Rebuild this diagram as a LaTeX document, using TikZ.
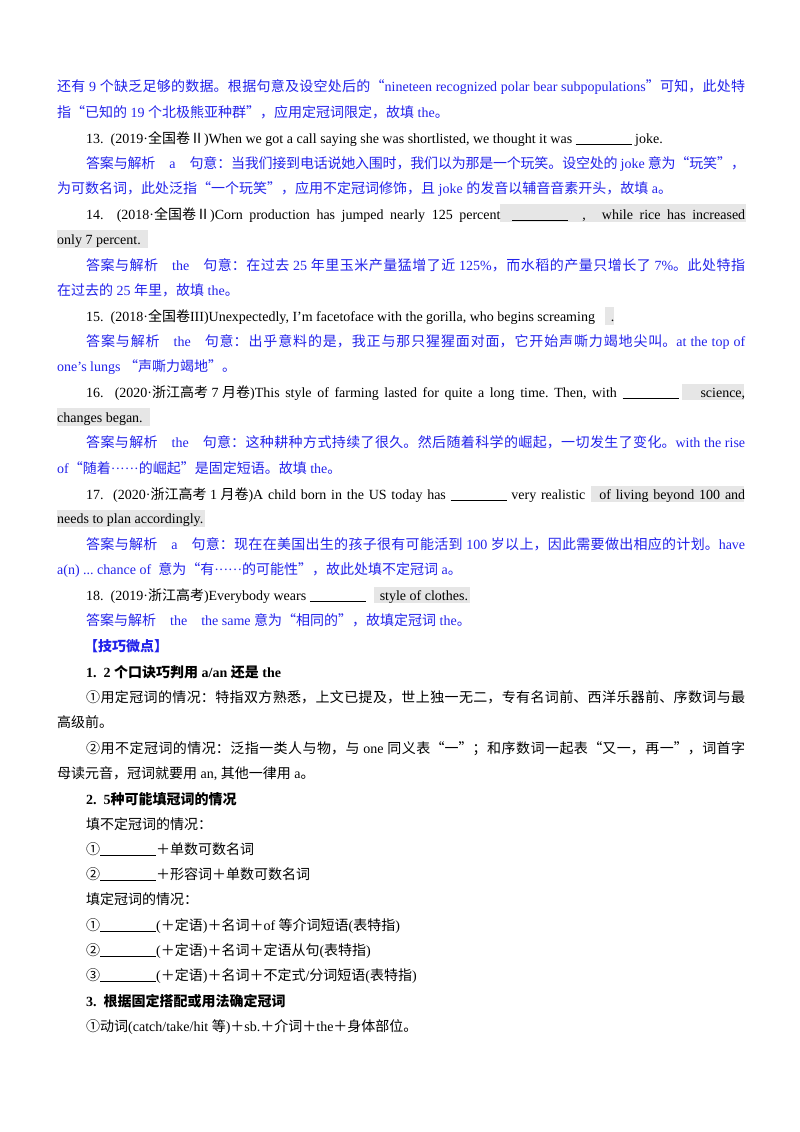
\documentclass[tikz,border=0pt]{standalone}
\usepackage{fontspec}
\setmainfont{Liberation Serif}
\newfontfamily\cjk{Noto Sans CJK SC}
\newcommand\zh[1]{{\cjk #1}}
\newcommand\jl[2]{\vbox{\hsize=#1pt\parindent=0pt\parfillskip=0pt\leftskip=0pt\rightskip=0pt\tolerance=10000\emergencystretch=0pt\noindent #2}}
\newcommand\blank{\rule[-2pt]{56pt}{0.6pt}}
\newcommand\mydots{······}
\XeTeXlinebreaklocale "zh"
\XeTeXlinebreakskip=0pt plus 3pt minus 0.6pt
\frenchspacing
\definecolor{ansblue}{RGB}{35,35,235}
\definecolor{hlgray}{RGB}{230,230,230}
\tikzset{
  txt/.style={anchor=base west, inner sep=0pt, font=\fontsize{14}{25}\selectfont},
  ans/.style={txt, text=ansblue},
  hl/.style={fill=hlgray}
}
\begin{document}
\begin{tikzpicture}[x=1pt,y=-1pt]
\useasboundingbox[fill=white] (0,0) rectangle (800,1132);
% highlights
\fill[hl] (500,204) rectangle (746,222);
\fill[hl] (57,230) rectangle (148,248);
\fill[hl] (605,307) rectangle (614,325);
\fill[hl] (682,384) rectangle (744,400);
\fill[hl] (57,408) rectangle (150,426);
\fill[hl] (591,486) rectangle (744,502);
\fill[hl] (57,510) rectangle (205,527);
\fill[hl] (374,587) rectangle (470,603);
% text lines
\node[ans] (l1) at (57,91) {\jl{688}{\zh{还有} 9 \zh{个缺乏足够的数据。根据句意及设空处后的“}nineteen recognized polar bear subpopulations\zh{”可知，此处特}}};
\node[ans] (l2) at (57,117) {\zh{指“已知的} 19 \zh{个北极熊亚种群”，应用定冠词限定，故填} the\zh{。}};
\node[txt] (l3) at (86,143) {13.\ \ (2019·\zh{全国卷Ⅱ})When we got a call saying she was shortlisted, we thought it was \blank\ joke.};
\node[ans] (l4) at (86,168) {\jl{659}{\zh{答案与解析}\quad a\quad\zh{句意：当我们接到电话说她入围时，我们以为那是一个玩笑。设空处的} joke \zh{意为“玩笑”，}}};
\node[ans] (l5) at (57,193) {\zh{为可数名词，此处泛指“一个玩笑”，应用不定冠词修饰，且} joke \zh{的发音以辅音音素开头，故填} a\zh{。}};
\node[txt] (l6) at (86,219) {\jl{659}{14.\ \ \mbox{(2018·\zh{全国卷Ⅱ})Corn} production has jumped nearly 125 percent\hspace{12pt}\blank\hspace{14pt},\hspace{16pt}while rice has increased}};
\node[txt] (l7) at (57,244) {only 7 percent.};
\node[ans] (l8) at (86,270) {\jl{659}{\zh{答案与解析}\quad the\quad\zh{句意：在过去} 25 \zh{年里玉米产量猛增了近} 125\%\zh{，而水稻的产量只增长了} 7\%\zh{。此处特指}}};
\node[ans] (l9) at (57,295) {\zh{在过去的} 25 \zh{年里，故填} the\zh{。}};
\node[txt] (l10) at (86,321) {15.\ \ (2018·\zh{全国卷}III)Unexpectedly, I'm facetoface with the gorilla, who begins screaming\hspace{16pt}.};
\node[ans] (l11) at (86,346) {\jl{659}{\zh{答案与解析}\quad the\quad\zh{句意：出乎意料的是，我正与那只猩猩面对面，它开始声嘶力竭地尖叫。}at the top of}};
\node[ans] (l12) at (57,371) {one's lungs \zh{“声嘶力竭地”。}};
\node[txt] (l13) at (86,397) {\jl{659}{16.\ \ \mbox{(2020·\zh{浙江高考} 7 \zh{月卷})This} style of farming lasted for quite a long time. Then, with \blank\hspace{22pt}science,}};
\node[txt] (l14) at (57,422) {changes began.};
\node[ans] (l15) at (86,447) {\jl{659}{\zh{答案与解析}\quad the\quad\zh{句意：这种耕种方式持续了很久。然后随着科学的崛起，一切发生了变化。}with the rise}};
\node[ans] (l16) at (57,473) {of\zh{“随着}\mydots\zh{的崛起”是固定短语。故填} the\zh{。}};
\node[txt] (l17) at (86,499) {\jl{659}{17.\ \ \mbox{(2020·\zh{浙江高考} 1 \zh{月卷})A} child born in the US today has \blank\ very realistic\hspace{14pt}of living beyond 100 and}};
\node[txt] (l18) at (57,523) {needs to plan accordingly.};
\node[ans] (l19) at (86,549) {\jl{659}{\zh{答案与解析}\quad a\quad\zh{句意：现在在美国出生的孩子很有可能活到} 100 \zh{岁以上，因此需要做出相应的计划。}have}};
\node[ans] (l20) at (57,574) {a(n) ... chance of \ \zh{意为“有}\mydots\zh{的可能性”，故此处填不定冠词} a\zh{。}};
\node[txt] (l21) at (86,600) {18.\ \ (2019·\zh{浙江高考})Everybody wears \blank\hspace{14pt}style of clothes.};
\node[ans] (l22) at (86,625) {\zh{答案与解析}\quad the\quad the same \zh{意为“相同的”，故填定冠词} the\zh{。}};
\node[ans,font=\fontsize{14}{25}\selectfont\bfseries] (l23) at (84,651) {\zh{【技巧微点】}};
\node[txt,font=\fontsize{14}{25}\selectfont\bfseries] (l24) at (86,677) {1.\ \ 2 \zh{个口诀巧判用} a/an \zh{还是} the};
\node[txt] (l25) at (86,702) {\jl{659}{\zh{①用定冠词的情况：特指双方熟悉，上文已提及，世上独一无二，专有名词前、西洋乐器前、序数词与最}}};
\node[txt] (l26) at (57,727) {\zh{高级前。}};
\node[txt] (l27) at (86,753) {\jl{659}{\zh{②用不定冠词的情况：泛指一类人与物，与} one \zh{同义表“一”；和序数词一起表“又一，再一”，词首字}}};
\node[txt] (l28) at (57,778) {\zh{母读元音，冠词就要用} an, \zh{其他一律用} a\zh{。}};
\node[txt,font=\fontsize{14}{25}\selectfont\bfseries] (l29) at (86,804) {2.\ \ 5\zh{种可能填冠词的情况}};
\node[txt] (l30) at (86,829) {\zh{填不定冠词的情况：}};
\node[txt] (l31) at (86,854) {\zh{①}\blank\zh{＋单数可数名词}};
\node[txt] (l32) at (86,879) {\zh{②}\blank\zh{＋形容词＋单数可数名词}};
\node[txt] (l33) at (86,904) {\zh{填定冠词的情况：}};
\node[txt] (l34) at (86,930) {\zh{①}\blank(\zh{＋定语})\zh{＋名词＋}of \zh{等介词短语}(\zh{表特指})};
\node[txt] (l35) at (86,955) {\zh{②}\blank(\zh{＋定语})\zh{＋名词＋定语从句}(\zh{表特指})};
\node[txt] (l36) at (86,980) {\zh{③}\blank(\zh{＋定语})\zh{＋名词＋不定式}/\zh{分词短语}(\zh{表特指})};
\node[txt,font=\fontsize{14}{25}\selectfont\bfseries] (l37) at (86,1006) {3.\ \ \zh{根据固定搭配或用法确定冠词}};
\node[txt] (l38) at (86,1031) {\zh{①动词}(catch/take/hit \zh{等})\zh{＋}sb.\zh{＋介词＋}the\zh{＋身体部位。}};
\end{tikzpicture}
\end{document}
